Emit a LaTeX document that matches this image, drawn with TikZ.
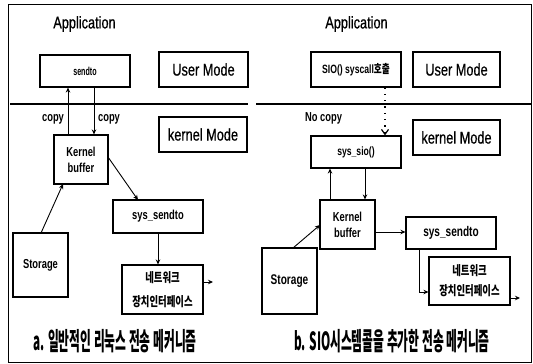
\documentclass[tikz,border=0pt]{standalone}
\usepackage{fontspec}
\setmainfont[FakeStretch=0.75,FakeBold=0.6]{Liberation Sans}
\newfontfamily\lbl[FakeStretch=0.72]{Liberation Sans}
\newfontfamily\lblnarrow[FakeStretch=0.62]{Liberation Sans}
\newfontfamily\kr[FakeStretch=0.72]{Noto Sans CJK KR}
\newfontfamily\krcap[FakeStretch=0.47]{Noto Sans CJK KR}
\usetikzlibrary{arrows.meta,calc}
\tikzset{
  box/.style={draw, line width=1.1pt, inner sep=0pt, align=center},
  modebox/.style={box, font=\fontsize{17}{20}\selectfont},
  arr/.style={-{Stealth[length=5pt,width=4.5pt]}, line width=0.9pt},
  title/.style={font=\fontsize{17}{20}\selectfont, inner sep=0pt},
  lab/.style={font=\lbl\bfseries\fontsize{13}{16}\selectfont, inner sep=0pt},
  caption/.style={font=\krcap\bfseries\fontsize{25}{28}\selectfont, inner sep=0pt},
  divider/.style={line width=2.8pt},
}
\begin{document}
\begin{tikzpicture}[x=1pt, y=-1pt]
\useasboundingbox (0,0) rectangle (533,364);
% outer frame
\draw[line width=0.9pt] (8,4) rectangle (531,362);

% ---------- left panel: ordinary Linux send path ----------
\node[title] (appL) at (84.5,24) {Application};
\node[box, minimum width=90pt, minimum height=32pt, font=\lblnarrow\bfseries\fontsize{11.5}{13}\selectfont] (sendto) at (85,71) {sendto};
\node[modebox, minimum width=89pt, minimum height=35pt] (userL) at (203.5,69.5) {User Mode};
\coordinate (divLa) at (10,104);
\coordinate (divLb) at (248,104);
\draw[divider] (divLa) -- (divLb);
\node[modebox, minimum width=88pt, minimum height=35pt] (kernL) at (203,134.5) {kernel Mode};
\node[box, minimum width=54pt, minimum height=49pt, font=\lbl\bfseries\fontsize{13}{16}\selectfont] (bufL) at (81,159.5) {Kernel\\buffer};
\node[lab] (copyA) at (53,119) {copy};
\node[lab] (copyB) at (109,119) {copy};
\node[box, minimum width=90pt, minimum height=33pt, font=\lbl\bfseries\fontsize{13}{16}\selectfont] (sysL) at (158,216.5) {sys\_sendto};
\node[box, minimum width=55pt, minimum height=64pt, font=\lbl\bfseries\fontsize{13}{16}\selectfont] (storL) at (40.5,265) {Storage};
\node[box, minimum width=81pt, minimum height=49pt, font=\kr\bfseries\fontsize{13}{24}\selectfont] (netL) at (162.5,289.5) {네트워크\\장치인터페이스};
\coordinate (upL) at (68,0);
\coordinate (downL) at (94,0);
\draw[arr] (bufL.north -| upL) -- (sendto.south -| upL);
\draw[arr] (sendto.south -| downL) -- (bufL.north -| downL);
\coordinate (bufLout) at (108,157);
\coordinate (sysLin) at (138,200);
\draw[arr] (bufLout) -- (sysLin);
\coordinate (storLout) at (41,233);
\coordinate (bufLin) at (63,184);
\draw[arr] (storLout) -- (bufLin);
\draw[arr] (sysL.south) -- (netL.north -| sysL.south);
\coordinate (netLa) at (203,282);
\coordinate (netLb) at (213,282);
\draw[arr] (netLa) -- (netLb);
\node[caption] (capA) at (115,341) {a. 일반적인 리눅스 전송 메커니즘};

% ---------- right panel: send path with the SIO system call ----------
\node[title] (appR) at (356.5,24) {Application};
\node[box, minimum width=90pt, minimum height=35pt, font=\lbl\bfseries\fontsize{12}{14}\selectfont] (sio) at (356,69.5) {SIO() syscall{\kr 호출}};
\node[modebox, minimum width=87pt, minimum height=35pt] (userR) at (456.5,69.5) {User Mode};
\coordinate (divRa) at (256,104);
\coordinate (divRb) at (531,104);
\draw[divider] (divRa) -- (divRb);
\node[lab] (nocopy) at (323.5,118) {No copy};
\node[modebox, minimum width=87pt, minimum height=35pt] (kernR) at (456.5,137.5) {kernel Mode};
\node[box, minimum width=90pt, minimum height=32pt, font=\lbl\bfseries\fontsize{12}{14}\selectfont] (sysio) at (356,152) {sys\_sio()};
\coordinate (dotX) at (385,0);
\draw[line width=1.2pt, dash pattern=on 1.3pt off 5pt, -{Straight Barb[length=5pt,width=7pt]}] (sio.south -| dotX) -- (sysio.north -| dotX);
\node[box, minimum width=55pt, minimum height=49pt, font=\lbl\bfseries\fontsize{13}{16}\selectfont] (bufR) at (347.5,224.5) {Kernel\\buffer};
\coordinate (upR) at (330,0);
\coordinate (downR) at (365,0);
\draw[arr] (bufR.north -| upR) -- (sysio.south -| upR);
\draw[arr] (sysio.south -| downR) -- (bufR.north -| downR);
\node[box, minimum width=90pt, minimum height=32pt, font=\lbl\bfseries\fontsize{14}{16}\selectfont] (sysR) at (451,233) {sys\_sendto};
\coordinate (bufRy) at (0,232);
\draw[arr] (bufR.east |- bufRy) -- (sysR.west |- bufRy);
\node[box, minimum width=55pt, minimum height=66pt, font=\lbl\bfseries\fontsize{14}{16}\selectfont] (storR) at (289.5,281) {Storage};
\coordinate (storRout) at (293,248);
\coordinate (bufRin) at (320,225);
\draw[arr] (storRout) -- (bufRin);
\node[box, minimum width=81pt, minimum height=48pt, font=\kr\bfseries\fontsize{13}{20}\selectfont] (netR) at (469.5,281) {네트워크\\장치인터페이스};
\coordinate (elbowX) at (419,0);
\coordinate (elbowY) at (0,292);
\draw[arr] (sysR.south -| elbowX) -- (elbowX |- elbowY) -- (netR.west |- elbowY);
\coordinate (netRa) at (510,298);
\coordinate (netRb) at (520,298);
\draw[arr] (netRa) -- (netRb);
\node[caption] (capB) at (392,341) {b. SIO시스템콜을 추가한 전송 메커니즘};
\end{tikzpicture}
\end{document}
